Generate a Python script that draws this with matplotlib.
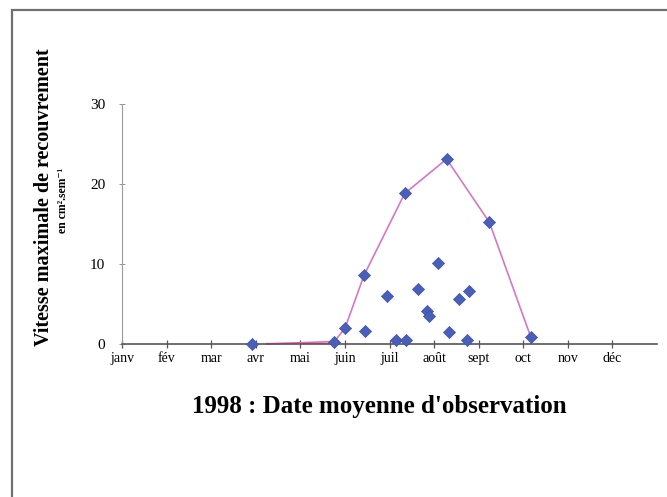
import matplotlib.pyplot as plt
from matplotlib.patches import Rectangle

# months shown on the date axis (janv = 0 ... déc = 11)
months = ["janv", "fév", "mar", "avr", "mai", "juin", "juil",
          "août", "sept", "oct", "nov", "déc"]

# mean observation date (in months from 1 Jan) and max covering rate
obs_date = [2.91, 4.76, 5.00, 5.43, 5.45, 5.95, 6.14, 6.38, 6.34, 6.63,
            6.85, 6.88, 7.08, 7.28, 7.33, 7.56, 7.78, 7.73, 8.24, 9.17]
obs_rate = [0.0, 0.3, 1.95, 8.6, 1.65, 6.0, 0.5, 0.5, 18.8, 6.85,
            4.15, 3.5, 10.1, 23.1, 1.45, 5.6, 6.6, 0.5, 15.2, 0.85]

# upper envelope of the observations
env_date = [3.25, 4.76, 5.00, 5.43, 6.34, 7.28, 8.24, 9.17]
env_rate = [0.0, 0.3, 1.95, 8.6, 18.8, 23.1, 15.2, 0.85]

serif = ["Liberation Serif", "DejaVu Serif"]

fig = plt.figure(figsize=(6.67, 4.97), dpi=100)
fig.patch.set_facecolor("white")

# thin grey frame around the whole chart area
fig.patches.append(Rectangle((12 / 667, -0.05), 1.0, 1 - 10 / 497 + 0.05,
                             transform=fig.transFigure, fill=False,
                             edgecolor="#707070", lw=1.6))

ax = fig.add_axes([0.183, 0.308, 0.802, 0.483])
ax.set_xlim(0, 12)
ax.set_ylim(0, 30)

ax.plot(env_date, env_rate, color="#d676c8", lw=1.2, zorder=2, clip_on=False)
ax.plot([3.25, 4.76], [0, 0], color="#a04060", lw=1.6, zorder=3)
ax.scatter(obs_date, obs_rate, marker="D", s=38, color="#4a60b8",
           edgecolor="#3d52aa", lw=0.5, zorder=4, clip_on=False)

for side in ["top", "right"]:
    ax.spines[side].set_visible(False)
ax.spines["left"].set_color("#9a9a9a")
ax.spines["left"].set_linewidth(0.8)
ax.spines["bottom"].set_color("#555555")
ax.spines["bottom"].set_linewidth(1.2)

ax.set_xticks(range(12))
ax.set_xticklabels(months, family=serif, fontsize=10)
ax.set_yticks([0, 10, 20, 30])
ax.set_yticklabels(["0", "10", "20", "30"], family=serif, fontsize=11)
ax.tick_params(axis="x", direction="inout", length=6, width=0.9,
               color="#555555", pad=3)
ax.tick_params(axis="y", direction="inout", length=4, width=0.7,
               color="#9a9a9a", pad=10)

fig.text(44 / 667, 1 - 197 / 497, "Vitesse maximale de recouvrement",
         rotation=90, ha="center", va="center", family=serif,
         fontweight="bold", fontsize=14.5)
fig.text(63 / 667, 1 - 200 / 497, "en cm².sem⁻¹",
         rotation=90, ha="center", va="center", family=serif,
         fontweight="bold", fontsize=8.5)

fig.text(379 / 667, 1 - 407 / 497, "1998 : Date moyenne d'observation",
         ha="center", va="center", family=serif, fontweight="bold",
         fontsize=18)

fig.savefig("out.png", dpi=100)
